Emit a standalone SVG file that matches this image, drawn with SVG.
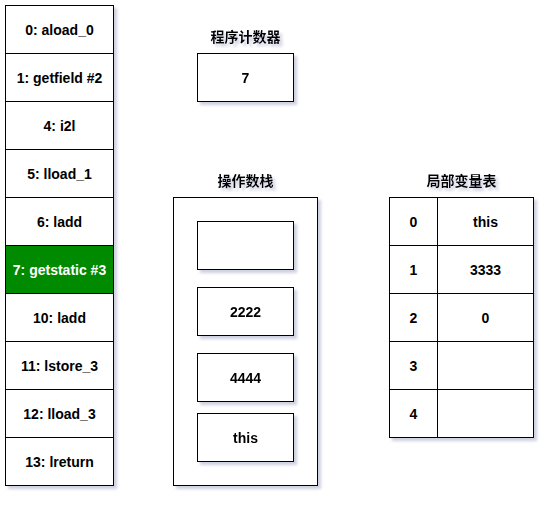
<svg xmlns="http://www.w3.org/2000/svg" width="553" height="505" viewBox="0 0 553 505">
<defs>
<filter id="sh" x="-20%" y="-20%" width="150%" height="150%">
<feGaussianBlur in="SourceAlpha" stdDeviation="1.5"/>
<feOffset dx="3" dy="3" result="b"/>
<feFlood flood-color="#9098b8" flood-opacity="0.45"/>
<feComposite in2="b" operator="in"/>
<feMerge><feMergeNode/><feMergeNode in="SourceGraphic"/></feMerge>
</filter>
</defs>
<style>
rect{fill:#fff;stroke:#000;stroke-width:1}
line{stroke:#000;stroke-width:1}
text{font-family:"Liberation Sans",Arial,sans-serif;font-size:14px;font-weight:bold;text-anchor:middle;dominant-baseline:central;fill:#000}
.t{font-family:"Liberation Sans","Noto Sans CJK SC",sans-serif;font-size:14px}
.g{fill:#008a00}
.w{fill:#fff}
</style>
<rect width="553" height="505" style="stroke:none;fill:#fff"/>
<g id="bytecode" filter="url(#sh)">
<rect x="5.5" y="5.5" width="108" height="480"/>
<rect class="g" x="5.5" y="245.5" width="108" height="48"/>
<line x1="5.5" y1="53.5" x2="113.5" y2="53.5"/>
<line x1="5.5" y1="101.5" x2="113.5" y2="101.5"/>
<line x1="5.5" y1="149.5" x2="113.5" y2="149.5"/>
<line x1="5.5" y1="197.5" x2="113.5" y2="197.5"/>
<line x1="5.5" y1="245.5" x2="113.5" y2="245.5"/>
<line x1="5.5" y1="293.5" x2="113.5" y2="293.5"/>
<line x1="5.5" y1="341.5" x2="113.5" y2="341.5"/>
<line x1="5.5" y1="389.5" x2="113.5" y2="389.5"/>
<line x1="5.5" y1="437.5" x2="113.5" y2="437.5"/>
</g>
<g id="bytecode-text">
<text x="59.5" y="30">0: aload_0</text>
<text x="59.5" y="78">1: getfield #2</text>
<text x="59.5" y="126">4: i2l</text>
<text x="59.5" y="174">5: lload_1</text>
<text x="59.5" y="222">6: ladd</text>
<text class="w" x="59.5" y="270">7: getstatic #3</text>
<text x="59.5" y="318">10: ladd</text>
<text x="59.5" y="366">11: lstore_3</text>
<text x="59.5" y="414">12: lload_3</text>
<text x="59.5" y="462">13: lreturn</text>
</g>
<g id="pc-label" filter="url(#sh)"><text class="t" x="245.5" y="37">程序计数器</text></g>
<g id="pc" filter="url(#sh)">
<rect x="197.5" y="53.5" width="96" height="48"/>
<text x="245.5" y="78">7</text>
</g>
<g id="stack-label" filter="url(#sh)"><text class="t" x="245.5" y="181">操作数栈</text></g>
<g id="stack" filter="url(#sh)">
<rect x="173.5" y="197.5" width="144" height="288"/>
</g>
<g id="slot0" filter="url(#sh)"><rect x="197.5" y="221.5" width="96" height="48"/></g>
<g id="slot1" filter="url(#sh)"><rect x="197.5" y="287.5" width="96" height="48"/><text x="245.5" y="312">2222</text></g>
<g id="slot2" filter="url(#sh)"><rect x="197.5" y="353.5" width="96" height="48"/><text x="245.5" y="378">4444</text></g>
<g id="slot3" filter="url(#sh)"><rect x="197.5" y="413.5" width="96" height="48"/><text x="245.5" y="438">this</text></g>
<g id="lvt-label" filter="url(#sh)"><text class="t" x="461.5" y="181">局部变量表</text></g>
<g id="lvt" filter="url(#sh)">
<rect x="389.5" y="197.5" width="144" height="240"/>
<line x1="437.5" y1="197.5" x2="437.5" y2="437.5"/>
<line x1="389.5" y1="245.5" x2="533.5" y2="245.5"/>
<line x1="389.5" y1="293.5" x2="533.5" y2="293.5"/>
<line x1="389.5" y1="341.5" x2="533.5" y2="341.5"/>
<line x1="389.5" y1="389.5" x2="533.5" y2="389.5"/>
</g>
<g id="lvt-text">
<text x="413.5" y="222">0</text><text x="485.5" y="222">this</text>
<text x="413.5" y="270">1</text><text x="485.5" y="270">3333</text>
<text x="413.5" y="318">2</text><text x="485.5" y="318">0</text>
<text x="413.5" y="366">3</text>
<text x="413.5" y="414">4</text>
</g>
<g id="connectors"/>
</svg>
